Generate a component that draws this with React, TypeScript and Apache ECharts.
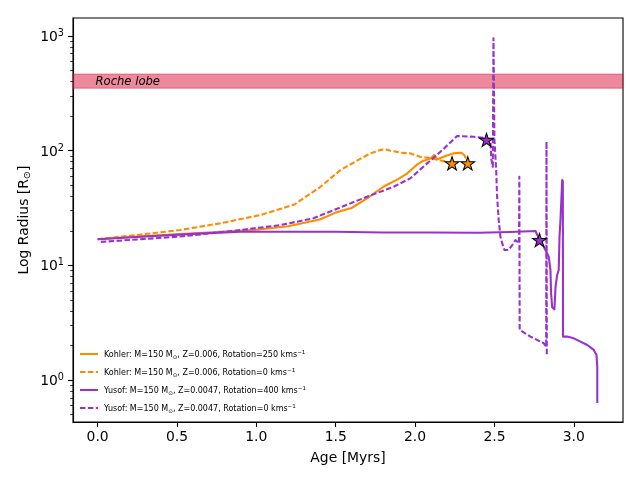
import React, { useEffect, useRef } from 'react';
import * as echarts from 'echarts';

// ---- data (age in Myrs, radius in R_sun) ----
const kohlerRot250Age = [0, 0.25, 0.5, 0.75, 1.0, 1.2, 1.4, 1.5, 1.6, 1.7, 1.8, 1.89, 1.95, 2.01, 2.05, 2.1, 2.12, 2.14, 2.18, 2.24, 2.29, 2.31, 2.32];
const kohlerRot250Radius = [16.9, 17.8, 18.6, 19.5, 20.4, 21.9, 25.1, 28.8, 31.6, 38.5, 48.4, 56.2, 63.1, 75.0, 81.3, 85.7, 91.6, 83.9, 88.5, 94.6, 95.9, 91.6, 85.7];

const kohlerRot0Age = [0, 0.25, 0.52, 0.77, 1.03, 1.24, 1.4, 1.53, 1.66, 1.72, 1.78, 1.81, 1.84, 1.88, 1.91, 1.97, 2.03, 2.1, 2.15, 2.2];
const kohlerRot0Radius = [16.9, 18.4, 20.3, 23.2, 27.5, 33.9, 47.9, 67.6, 85.7, 94.6, 101, 102.6, 100, 97.7, 95.9, 94.6, 88.5, 85.7, 82.8, 80.0];

const yusofRot400Age = [0, 0.3, 0.6, 0.9, 1.2, 1.5, 1.8, 2.1, 2.4, 2.6, 2.759, 2.784, 2.811, 2.842, 2.853, 2.857, 2.864, 2.878, 2.885, 2.895, 2.905, 2.91, 2.916, 2.927, 2.931, 2.932, 2.958, 3.0, 3.042, 3.085, 3.126, 3.143, 3.148, 3.148];
const yusofRot400Radius = [16.9, 17.8, 18.8, 19.6, 19.6, 19.6, 19.3, 19.3, 19.2, 19.5, 19.9, 16.6, 14.5, 11.9, 9.1, 5.7, 4.3, 4.13, 6.5, 8.2, 9.1, 17.7, 24.8, 55.5, 54.3, 2.39, 2.39, 2.31, 2.16, 2.02, 1.83, 1.65, 1.31, 0.63];

const yusofRot0Age = [0.02, 0.52, 0.9, 1.15, 1.36, 1.487, 1.697, 1.865, 1.97, 2.076, 2.16, 2.265, 2.37, 2.454, 2.475, 2.48, 2.49, 2.494, 2.5, 2.511, 2.517, 2.527, 2.538, 2.549, 2.563, 2.59, 2.612, 2.632, 2.643, 2.655, 2.657, 2.659, 2.727, 2.811, 2.826, 2.828, 2.83];
const yusofRot0Radius = [16.0, 17.8, 20.3, 22.4, 25.7, 30.3, 39.6, 48.4, 57.3, 77.4, 97.7, 134, 132, 128, 123, 85.1, 72.4, 955, 126, 67.8, 39.6, 24.8, 17.7, 15.6, 13.6, 13.6, 15.0, 16.6, 16.1, 15.5, 59.2, 2.73, 2.39, 2.09, 1.95, 120, 1.65];

const kohlerStarAge = [2.233, 2.332];
const kohlerStarRadius = [77.5, 77.5];
const yusofStarAge = [2.45, 2.784];
const yusofStarRadius = [124, 16.6];

const rocheLobeRange = [350, 465];

const xTickValues = [0, 0.5, 1, 1.5, 2, 2.5, 3];
const yTickExponents = [0, 1, 2, 3];

const legendLabels = [
  { name: 'Kohler', z: '0.006', rot: '250' },
  { name: 'Kohler', z: '0.006', rot: '0' },
  { name: 'Yusof', z: '0.0047', rot: '400' },
  { name: 'Yusof', z: '0.0047', rot: '0' },
];

// ---- styling ----
const FONT = 'DejaVu Sans';
const ORANGE = '#FF8C00';
const PURPLE = '#9932CC';
const LW = 2.08;
const DASH = [5.5, 2.4];
const X_MIN = -0.155;
const X_MAX = 3.31;
const Y_MIN = -0.366;
const Y_MAX = 3.156;

const toPairs = (ages: number[], radii: number[]) => ages.map((a, i) => [a, Math.log10(radii[i])]);

const minorTicks: number[] = [];
for (let k = -1; k <= 3; k++) {
  for (let m = 2; m <= 9; m++) {
    const v = k + Math.log10(m);
    if (v > Y_MIN && v < Y_MAX) minorTicks.push(v);
  }
}

const starPts = Array.from({ length: 10 }, (_, i) => {
  const a = -Math.PI / 2 + (i * Math.PI) / 5;
  const r = i % 2 === 0 ? 1 : 0.382;
  return `${(r * Math.cos(a) + 1).toFixed(4)} ${(r * Math.sin(a) + 1).toFixed(4)}`;
});
const STAR = 'path://M' + starPts.join(' L') + ' Z';

export default function App() {
  const ref = useRef<HTMLDivElement>(null);
  useEffect(() => {
    if (!ref.current) return;
    const chart = echarts.init(ref.current, null, { renderer: 'svg' });

    const lineSeries = (name: string, data: number[][], color: string, dashed: boolean, extra: any = {}) => ({
      name,
      type: 'line',
      data,
      showSymbol: false,
      symbol: 'none',
      z: 3,
      lineStyle: { color, width: LW, type: dashed ? DASH : 'solid', cap: 'butt', join: 'round' },
      ...extra,
    });

    const legendRows = legendLabels.map((l, i) => {
      const y = 354 + i * 18;
      const color = i < 2 ? ORANGE : PURPLE;
      const dashed = i % 2 === 1;
      return [
        {
          type: 'line',
          shape: { x1: 80, y1: y, x2: 98, y2: y },
          style: { stroke: color, lineWidth: LW, lineDash: dashed ? DASH : null },
          silent: true,
        },
        {
          type: 'text',
          x: 104,
          y,
          style: {
            text: `{n|${l.name}: M=150 M}{sub|⊙}{n|, Z=${l.z}, Rotation=${l.rot} kms}{sup|−1}`,
            verticalAlign: 'middle',
            align: 'left',
            rich: {
              n: { fontSize: 8, fontFamily: FONT, fill: '#000', lineHeight: 11 },
              sub: { fontSize: 5.6, fontFamily: FONT, fill: '#000', lineHeight: 6, verticalAlign: 'bottom' },
              sup: { fontSize: 5.6, fontFamily: FONT, fill: '#000', lineHeight: 6, verticalAlign: 'top' },
            },
          },
          silent: true,
        },
      ];
    }).flat();

    chart.setOption({
      animation: false,
      grid: { left: 73, right: 17, top: 18, bottom: 58, show: true, borderColor: '#000', borderWidth: 1.1, backgroundColor: 'transparent' },
      xAxis: [
        {
          type: 'value',
          min: X_MIN,
          max: X_MAX,
          splitLine: { show: false },
          axisLine: { show: true, onZero: false, lineStyle: { color: '#000', width: 1.1 } },
          axisTick: { show: true, customValues: xTickValues, length: 5, lineStyle: { color: '#000', width: 1.1 } },
          axisLabel: {
            customValues: xTickValues,
            formatter: (v: number) => Number(v).toFixed(1),
            color: '#000',
            fontSize: 13.9,
            fontFamily: FONT,
            margin: 7,
          },
        },
      ],
      yAxis: [
        {
          type: 'value',
          min: Y_MIN,
          max: Y_MAX,
          position: 'left',
          splitLine: { show: false },
          axisLine: { show: true, onZero: false, lineStyle: { color: '#000', width: 1.1 } },
          axisTick: { show: true, customValues: yTickExponents, length: 5, lineStyle: { color: '#000', width: 1.1 } },
          axisLabel: {
            customValues: yTickExponents,
            formatter: (v: number) => `{b|10}{s|${Math.round(v)}}`,
            margin: 9,
            rich: {
              b: { fontSize: 13.9, fontFamily: FONT, color: '#000', lineHeight: 17 },
              s: { fontSize: 9.7, fontFamily: FONT, color: '#000', lineHeight: 8, verticalAlign: 'top' },
            },
          },
        },
        {
          type: 'value',
          min: Y_MIN,
          max: Y_MAX,
          position: 'left',
          offset: 0,
          splitLine: { show: false },
          axisLine: { show: false, onZero: false },
          axisTick: { show: true, customValues: minorTicks, length: 2.8, lineStyle: { color: '#000', width: 0.8 } },
          axisLabel: { show: false },
        },
      ],
      series: [
        lineSeries('kohler250', toPairs(kohlerRot250Age, kohlerRot250Radius), ORANGE, false, {
          markArea: {
            silent: true,
            itemStyle: { color: 'rgba(220,20,60,0.5)', borderColor: 'rgba(220,20,60,0.45)', borderWidth: 1 },
            label: {
              show: true,
              position: 'insideLeft',
              distance: 23,
              color: '#000',
              fontStyle: 'italic',
              fontSize: 11.6,
              fontFamily: FONT,
            },
            data: [[{ yAxis: Math.log10(rocheLobeRange[0]), name: 'Roche lobe' }, { yAxis: Math.log10(rocheLobeRange[1]) }]],
          },
        }),
        lineSeries('kohler0', toPairs(kohlerRot0Age, kohlerRot0Radius), ORANGE, true),
        lineSeries('yusof400', toPairs(yusofRot400Age, yusofRot400Radius), PURPLE, false),
        lineSeries('yusof0', toPairs(yusofRot0Age, yusofRot0Radius), PURPLE, true),
        {
          type: 'scatter',
          data: toPairs(kohlerStarAge, kohlerStarRadius),
          symbol: STAR,
          symbolSize: [14, 13.3],
          z: 5,
          itemStyle: { color: ORANGE, borderColor: '#000', borderWidth: 1, opacity: 1 },
        },
        {
          type: 'scatter',
          data: toPairs(yusofStarAge, yusofStarRadius),
          symbol: STAR,
          symbolSize: [14, 13.3],
          z: 5,
          itemStyle: { color: PURPLE, borderColor: '#000', borderWidth: 1, opacity: 1 },
        },
      ],
      graphic: [
        {
          type: 'text',
          x: 348,
          y: 457,
          style: { text: 'Age [Myrs]', fontSize: 13.9, fontFamily: FONT, fill: '#000', align: 'center', verticalAlign: 'middle' },
          silent: true,
        },
        {
          type: 'text',
          x: 23,
          y: 220,
          rotation: Math.PI / 2,
          style: {
            text: '{n|Log Radius [R}{sub|⊙}{n|]}',
            align: 'center',
            verticalAlign: 'middle',
            rich: {
              n: { fontSize: 13.9, fontFamily: FONT, fill: '#000', lineHeight: 17 },
              sub: { fontSize: 9.7, fontFamily: FONT, fill: '#000', lineHeight: 9, verticalAlign: 'bottom' },
            },
          },
          silent: true,
        },
        ...legendRows,
      ],
    });
    return () => chart.dispose();
  }, []);
  return <div ref={ref} style={{ position: 'fixed', left: 0, top: 0, width: 640, height: 480 }} />;
}
